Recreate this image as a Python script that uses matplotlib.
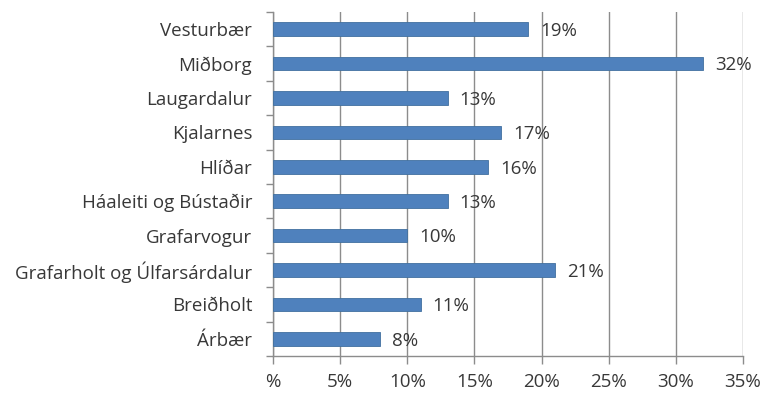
import matplotlib.pyplot as plt
import numpy as np

# Hlutfall eftir hverfum
hverfi = ['Vesturbær', 'Miðborg', 'Laugardalur', 'Kjalarnes', 'Hlíðar',
          'Háaleiti og Bústaðir', 'Grafarvogur', 'Grafarholt og Úlfarsárdalur',
          'Breiðholt', 'Árbær']
hlutfall = [19, 32, 13, 17, 16, 13, 10, 21, 11, 8]
x_ticks = [0, 5, 10, 15, 20, 25, 30, 35]
x_labels = ['%', '5%', '10%', '15%', '20%', '25%', '30%', '35%']

plt.rcParams['font.family'] = ['Open Sans', 'DejaVu Sans']
textalitur = '#383838'
linulitur = '#8c8c8c'
leturstaerd = 13.5

fig = plt.figure(figsize=(7.61, 3.94), dpi=100)
ax = fig.add_axes([0.3587, 0.0964, 0.6176, 0.8731])

y = np.arange(len(hverfi))[::-1]
ax.barh(y, hlutfall, height=0.4, color='#4f81bd', edgecolor='#41709f',
        linewidth=0.6, zorder=3)

for yi, v in zip(y, hlutfall):
    ax.text(v + 0.9, yi - 0.05, f'{v}%', va='center', ha='left',
            fontsize=leturstaerd, color=textalitur)

ax.set_xlim(0, 35)
ax.set_ylim(-0.5, len(hverfi) - 0.5)
ax.set_xticks(x_ticks)
ax.set_xticklabels(x_labels, fontsize=leturstaerd, color=textalitur)
ax.set_yticks(y)
ax.set_yticklabels(hverfi, fontsize=leturstaerd, color=textalitur)

# Litlu strikin milli flokka á y-ás
ax.set_yticks(np.arange(-0.5, len(hverfi), 1), minor=True)
ax.tick_params(axis='y', which='major', length=0, pad=15)
ax.tick_params(axis='y', which='minor', length=5, color=linulitur, width=1)
ax.tick_params(axis='x', which='major', length=6, color=linulitur, width=1,
               pad=6)

ax.grid(axis='x', color=linulitur, linewidth=1, zorder=0)
for s in ['top', 'right']:
    ax.spines[s].set_visible(False)
for s in ['left', 'bottom']:
    ax.spines[s].set_color(linulitur)
    ax.spines[s].set_linewidth(1)

plt.savefig('out.png', dpi=100)
